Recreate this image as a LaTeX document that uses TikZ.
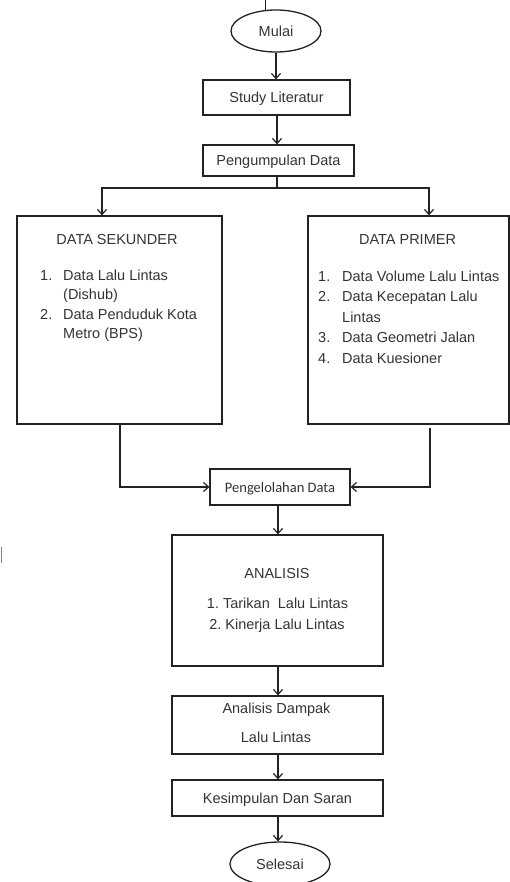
\documentclass[tikz,border=0pt]{standalone}
\usepackage{fontspec}
\setmainfont{Liberation Sans}
\newfontfamily\calibri{Carlito}
\usetikzlibrary{arrows.meta,shapes.geometric}
\definecolor{ink}{HTML}{222222}
\definecolor{txtc}{HTML}{333333}
\begin{document}
\begin{tikzpicture}[x=1pt,y=-1pt,
  box/.style={draw=ink, line width=1.3pt, rectangle, inner sep=0pt,
    font=\fontsize{14.5}{19}\selectfont, text height=10.4pt, text depth=0pt, text=txtc},
  term/.style={draw=ink, line width=1.3pt, ellipse, inner sep=0pt,
    font=\fontsize{14.5}{19}\selectfont, text height=10.4pt, text depth=0pt, text=txtc},
  conn/.style={draw=ink, line width=1.2pt},
  arr/.style={draw=ink, line width=1.2pt, -{Straight Barb[length=5pt,width=9pt,line width=1.2pt]}},
  txt/.style={inner sep=0pt, anchor=base west, font=\fontsize{14.5}{19}\selectfont, text=txtc},
  ttl/.style={inner sep=0pt, anchor=base, font=\fontsize{14.5}{19}\selectfont, text=txtc}
]
\useasboundingbox (0,0) rectangle (510,882);

% shapes
\node[term, minimum width=90pt, minimum height=42pt] (mulai) at (276,31) {Mulai};
\node[box, minimum width=147pt, minimum height=35pt] (study) at (276.5,97.5) {Study Literatur};
\node[box, minimum width=151pt, minimum height=31pt] (kumpul) at (278.5,160.5) {Pengumpulan Data};
\node[box, minimum width=205pt, minimum height=208pt] (sekunder) at (119.5,320) {};
\node[box, minimum width=201pt, minimum height=208pt] (primer) at (408.5,320) {};
\node[box, font=\calibri\fontsize{14.5}{19}\selectfont, minimum width=140pt, minimum height=36pt] (olah) at (280,487) {Pengelolahan Data};
\node[box, minimum width=211pt, minimum height=131pt] (analisis) at (277.5,600.5) {};
\node[box, minimum width=211pt, minimum height=58pt] (dampak) at (277.5,725) {};
\node[box, minimum width=211pt, minimum height=36pt] (simpul) at (277.5,798) {Kesimpulan Dan Saran};
\node[term, minimum width=100pt, minimum height=44pt] (selesai) at (280,864) {Selesai};

% texts: DATA SEKUNDER
\node[ttl] (sekT) at (117,245) {DATA SEKUNDER};
\node[txt] (s1n) at (40,280) {1.};
\node[txt] (s1a) at (63,280) {Data Lalu Lintas};
\node[txt] (s1b) at (63,299.5) {(Dishub)};
\node[txt] (s2n) at (40,319) {2.};
\node[txt] (s2a) at (63,319) {Data Penduduk Kota};
\node[txt] (s2b) at (63,338.5) {Metro (BPS)};

% texts: DATA PRIMER
\node[ttl] (priT) at (407.5,245) {DATA PRIMER};
\node[txt] (p1n) at (318,281) {1.};
\node[txt] (p1a) at (342,281) {Data Volume Lalu Lintas};
\node[txt] (p2n) at (318,301.5) {2.};
\node[txt] (p2a) at (342,301.5) {Data Kecepatan Lalu};
\node[txt] (p2b) at (342,322) {Lintas};
\node[txt] (p3n) at (318,342.5) {3.};
\node[txt] (p3a) at (342,342.5) {Data Geometri Jalan};
\node[txt] (p4n) at (318,363) {4.};
\node[txt] (p4a) at (342,363) {Data Kuesioner};

% texts: ANALISIS
\node[ttl] (anT) at (277,578) {ANALISIS};
\node[ttl] (an1) at (277.5,608) {1.\ Tarikan\ \ Lalu Lintas};
\node[ttl] (an2) at (277,629) {2.\ Kinerja Lalu Lintas};

% texts: Analisis Dampak
\node[ttl] (dp1) at (276.5,713) {Analisis Dampak};
\node[ttl] (dp2) at (276,742) {Lalu Lintas};

% connectors
\coordinate (cx) at (277,0);
\coordinate (split) at (277,188);
\coordinate (xl) at (102,0);
\coordinate (xr) at (429,0);
\coordinate (lb) at (120,0);
\coordinate (rs) at (430,428);
\coordinate (cx2) at (278,0);

\draw[arr] (mulai.south) -- (mulai.south |- study.north);
\draw[arr] (cx |- study.south) -- (cx |- kumpul.north);
\draw[conn] (cx |- kumpul.south) -- (split);
\draw[arr] (split) -| (xl |- sekunder.north);
\draw[arr] (split) -| (xr |- primer.north);
\draw[arr] (lb |- sekunder.south) |- (olah.west);
\draw[arr] (rs) |- (olah.east);
\draw[arr] (cx2 |- olah.south) -- (cx2 |- analisis.north);
\draw[arr] (cx2 |- analisis.south) -- (cx2 |- dampak.north);
\draw[arr] (cx2 |- dampak.south) -- (cx2 |- simpul.north);
\draw[arr] (cx2 |- simpul.south) -- (cx2 |- selesai.north);

% stray marks
\coordinate (t1) at (265,0);
\coordinate (t2) at (265,11);
\draw[conn, line width=1pt] (t1) -- (t2);
\coordinate (m1) at (1,547);
\coordinate (m2) at (1,563);
\draw[gray, line width=1pt] (m1) -- (m2);
\end{tikzpicture}
\end{document}
